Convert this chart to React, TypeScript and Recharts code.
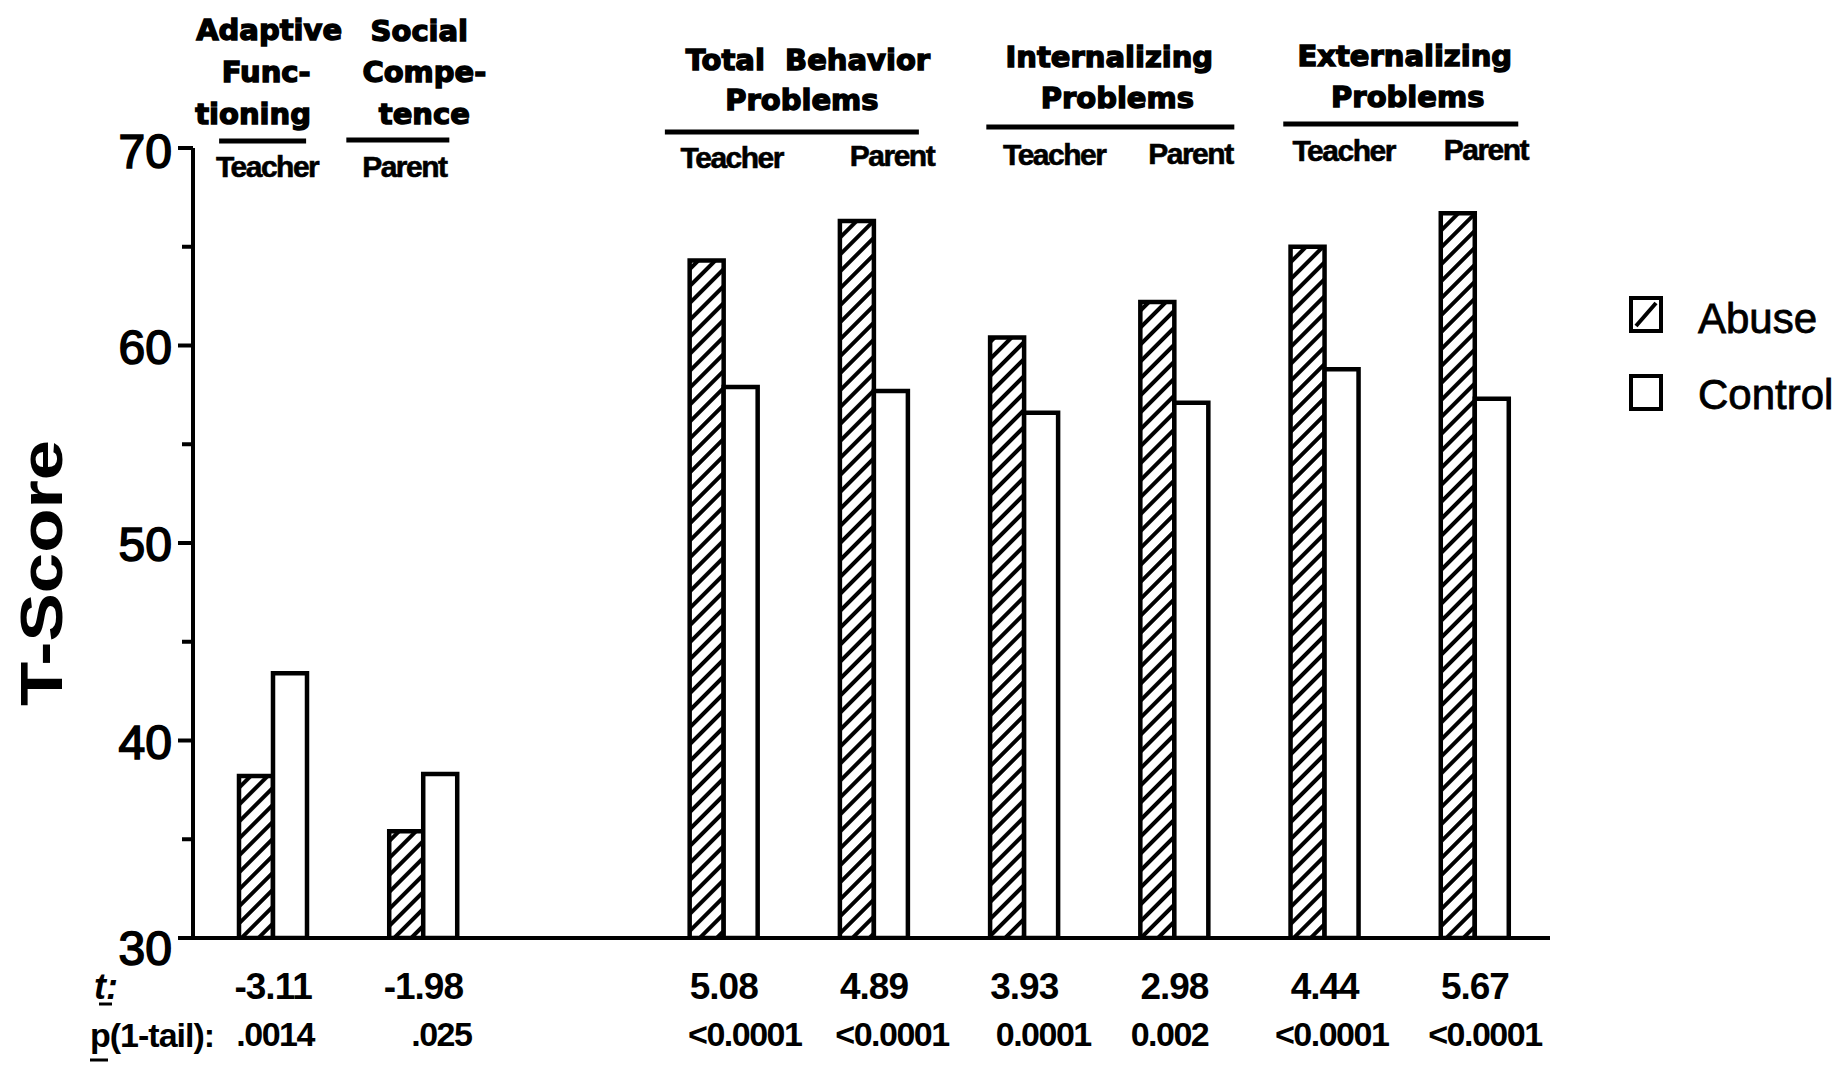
import React from "react";
import { BarChart, Bar, XAxis, YAxis } from "recharts";

// categories (one empty slot separates the competence scales from the problem scales)
const categories = ["AF-T", "SC-P", "gap", "TB-T", "TB-P", "IP-T", "IP-P", "EP-T", "EP-P"];
const raters = ["Teacher", "Parent", "", "Teacher", "Parent", "Teacher", "Parent", "Teacher", "Parent"];
const abuseScores = [38.2, 35.4, null, 64.3, 66.3, 60.4, 62.2, 65.0, 66.7];
const controlScores = [43.4, 38.3, null, 57.9, 57.7, 56.6, 57.1, 58.8, 57.3];
const tValues = ["-3.11", "-1.98", "", "5.08", "4.89", "3.93", "2.98", "4.44", "5.67"];
const pValues = [".0014", ".025", "", "<0.0001", "<0.0001", "0.0001", "0.002", "<0.0001", "<0.0001"];
const groupTitles = [
  ["Adaptive", "Func-", "tioning"],
  ["Social", "Compe-", "tence"],
  ["Total  Behavior", "Problems"],
  ["Internalizing", "Problems"],
  ["Externalizing", "Problems"],
];
const groupStart = [0, 1, 3, 5, 7];
const groupSpan = [1, 1, 2, 2, 2];
const yTicks = [30, 35, 40, 45, 50, 55, 60, 65, 70];

const data = categories.map((key, i) => ({
  key,
  abuse: abuseScores[i],
  control: controlScores[i],
}));

// layout constants
const BAND = 150.2;
const AXIS_X = 193;
const headFont = "'DejaVu Sans', sans-serif";
const bodyFont = "'Liberation Sans', Arial, sans-serif";

const raterDx = [-6, -19, 0, 8, 18, 30, 16, 19, 11];
const raterY = [177, 177, 0, 168, 166, 165, 164, 161, 160];
const headLineDx = [
  [-4, -7, -20],
  [-4, 1, 1],
  [9, 3],
  [10, 18],
  [5, 8],
];
const headLineY = [
  [40, 82, 124],
  [41, 82, 124],
  [70, 110],
  [67, 108],
  [66, 107],
];
const underDx = [-10.5, -25.5, -7, 11, 1];
const underW = [87, 103, 254, 248, 235];
const underY = [141, 140, 132, 127, 124];
const pDx = [2, 18, 0, 21, 18, 19, -5, 7, 10];

function TopTick(props: any) {
  const { x, payload } = props;
  const i = categories.indexOf(payload.value);
  const g = groupStart.indexOf(i);
  const center = g >= 0 ? x + ((groupSpan[g] - 1) * BAND) / 2 : x;
  return (
    <g>
      {raters[i] && (
        <text
          x={x + raterDx[i]}
          y={raterY[i]}
          textAnchor="middle"
          fontFamily={bodyFont}
          fontWeight="bold"
          fontSize={30}
          letterSpacing={-1.5}
          stroke="#000"
          strokeWidth={0.6}
          fill="#000"
        >
          {raters[i]}
        </text>
      )}
      {g >= 0 &&
        groupTitles[g].map((line, j) => (
          <text
            key={j}
            x={center + headLineDx[g][j]}
            y={headLineY[g][j]}
            textAnchor="middle"
            fontFamily={headFont}
            fontWeight="bold"
            fontSize={29}
            stroke="#000"
            strokeWidth={1.4}
            fill="#000"
            style={{ whiteSpace: "pre" }}
          >
            {line}
          </text>
        ))}
      {g >= 0 && (
        <line
          x1={center + underDx[g] - underW[g] / 2}
          x2={center + underDx[g] + underW[g] / 2}
          y1={underY[g]}
          y2={underY[g]}
          stroke="#000"
          strokeWidth={5}
        />
      )}
    </g>
  );
}

function BottomTick(props: any) {
  const { x, payload } = props;
  const i = categories.indexOf(payload.value);
  return (
    <g fontFamily={bodyFont} fontWeight="bold" fill="#000">
      {i === 0 && (
        <g>
          <text x={118} y={999} textAnchor="end" fontSize={36} fontStyle="italic">
            t:
          </text>
          <line x1={99} x2={112} y1={1004} y2={1004} stroke="#000" strokeWidth={3} />
          <text x={90} y={1047} fontSize={34} letterSpacing={-1}>
            p(1-tail):
          </text>
          <line x1={90} x2={108} y1={1060} y2={1060} stroke="#000" strokeWidth={3} />
        </g>
      )}
      <text x={x} y={999} textAnchor="middle" fontSize={37} letterSpacing={-1}>
        {tValues[i]}
      </text>
      <text x={x + pDx[i]} y={1046} textAnchor="middle" fontSize={34} letterSpacing={-1.5}>
        {pValues[i]}
      </text>
    </g>
  );
}

function LeftTick(props: any) {
  const { y, payload } = props;
  const v = payload.value;
  const major = v % 10 === 0;
  const dy = v === 30 ? 27 : v === 70 ? 20 : 18;
  return (
    <g>
      <line x1={major ? 178 : 182} x2={AXIS_X} y1={y} y2={y} stroke="#000" strokeWidth={4} />
      {major && (
        <text
          x={172}
          y={y + dy}
          textAnchor="end"
          fontFamily={bodyFont}
          fontSize={48}
          stroke="#000"
          strokeWidth={1.6}
          fill="#000"
        >
          {v}
        </text>
      )}
    </g>
  );
}

function YLabel() {
  return (
    <text
      x={0}
      y={0}
      transform="translate(62, 573) rotate(-90)"
      textAnchor="middle"
      fontFamily={bodyFont}
      fontWeight="bold"
      fontSize={60}
      textLength={266}
      lengthAdjust="spacingAndGlyphs"
      fill="#000"
    >
      T-Score
    </text>
  );
}

function LegendBox() {
  return (
    <svg
      width={214}
      height={140}
      style={{ position: "absolute", left: 1620, top: 285 }}
    >
      <rect x={11} y={13} width={30} height={33} fill="#fff" stroke="#000" strokeWidth={4} />
      <line x1={16} y1={41} x2={36} y2={18} stroke="#000" strokeWidth={4} />
      <text x={78} y={48} fontFamily={bodyFont} fontSize={42} stroke="#000" strokeWidth={0.8} fill="#000">
        Abuse
      </text>
      <rect x={11} y={91} width={30} height={33} fill="#fff" stroke="#000" strokeWidth={4} />
      <text x={78} y={124} fontFamily={bodyFont} fontSize={42} stroke="#000" strokeWidth={0.8} fill="#000">
        Control
      </text>
    </svg>
  );
}

export default function App() {
  return (
    <div
      style={{
        position: "absolute",
        left: 0,
        top: 0,
        width: 1834,
        height: 1071,
        background: "#fff",
      }}
    >
      <svg width={0} height={0} style={{ position: "absolute" }}>
        <defs>
          <pattern
            id="hatch"
            width={12}
            height={12}
            patternUnits="userSpaceOnUse"
            patternTransform="rotate(45)"
          >
            <rect width={12} height={12} fill="#fff" />
            <line x1={6} y1={0} x2={6} y2={12} stroke="#000" strokeWidth={4} />
          </pattern>
        </defs>
      </svg>
      <BarChart
        width={1834}
        height={1071}
        data={data}
        margin={{ top: 48, right: 284, bottom: 33, left: 0 }}
        barGap={0}
        barSize={34}
      >
        <XAxis
          xAxisId="top"
          orientation="top"
          dataKey="key"
          height={100}
          interval={0}
          padding={{ left: 5, right: 0 }}
          axisLine={false}
          tickLine={false}
          tick={<TopTick />}
        />
        <XAxis
          dataKey="key"
          height={100}
          interval={0}
          padding={{ left: 5, right: 0 }}
          axisLine={{ stroke: "#000", strokeWidth: 4 }}
          tickLine={false}
          tick={<BottomTick />}
        />
        <YAxis
          type="number"
          domain={[30, 70]}
          ticks={yTicks}
          interval={0}
          width={193}
          allowDataOverflow
          axisLine={{ stroke: "#000", strokeWidth: 4 }}
          tickLine={false}
          tick={<LeftTick />}
          label={<YLabel />}
        />
        <Bar
          dataKey="abuse"
          fill="url(#hatch)"
          stroke="#000"
          strokeWidth={4.5}
          isAnimationActive={false}
        />
        <Bar
          dataKey="control"
          fill="#fff"
          stroke="#000"
          strokeWidth={4.5}
          isAnimationActive={false}
        />
      </BarChart>
      <LegendBox />
    </div>
  );
}
